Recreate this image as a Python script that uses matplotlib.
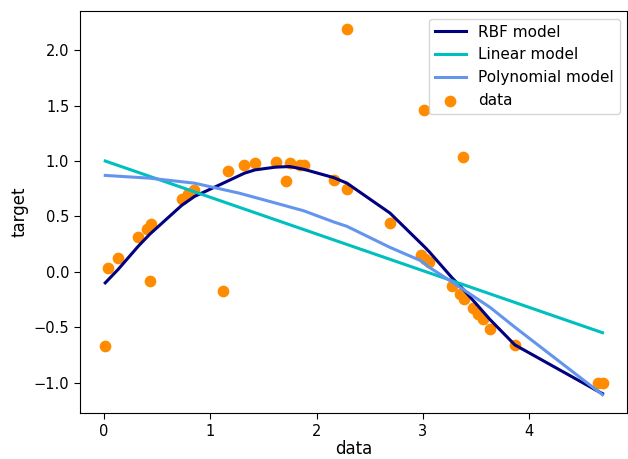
import matplotlib
matplotlib.use("Agg")
import matplotlib.pyplot as plt

# data points
data_x = [0.01, 0.036, 0.13, 0.32, 0.405, 0.43, 0.436, 0.73, 0.786, 0.85,
          1.12, 1.165, 1.32, 1.42, 1.615, 1.715, 1.746, 1.84, 1.88, 2.16,
          2.285, 2.285, 2.69, 2.98, 3.008, 3.02, 3.06, 3.27, 3.345, 3.377,
          3.39, 3.47, 3.52, 3.565, 3.63, 3.865, 4.65, 4.69]
data_y = [-0.67, 0.033, 0.12, 0.31, 0.39, -0.087, 0.43, 0.66, 0.70, 0.74,
          -0.175, 0.913, 0.964, 0.982, 0.994, 0.817, 0.985, 0.96, 0.96, 0.83,
          2.19, 0.75, 0.436, 0.147, 1.46, 0.115, 0.09, -0.13, -0.197, 1.04,
          -0.25, -0.33, -0.38, -0.425, -0.52, -0.66, -1.0, -1.0]

# model curves
rbf_x = [0.01, 0.13, 0.32, 0.43, 0.73, 0.85, 1.12, 1.32, 1.42, 1.615, 1.746,
         1.88, 2.16, 2.285, 2.69, 3.02, 3.06, 3.27, 3.39, 3.52, 3.63, 3.865,
         4.65, 4.69]
rbf_y = [-0.10, 0.02, 0.23, 0.34, 0.60, 0.68, 0.80, 0.89, 0.92, 0.945, 0.95,
         0.925, 0.85, 0.80, 0.53, 0.22, 0.18, -0.05, -0.17, -0.31, -0.43, -0.66,
         -1.08, -1.10]

lin_x = [0.01, 4.69]
lin_y = [1.00, -0.55]

poly_x = [0.01, 0.43, 0.85, 1.27, 1.615, 1.88, 2.16, 2.285, 2.69, 2.98,
          3.06, 3.27, 3.52, 3.63, 3.865, 4.69]
poly_y = [0.87, 0.845, 0.80, 0.71, 0.62, 0.55, 0.45, 0.41, 0.22, 0.10,
          0.04, -0.09, -0.25, -0.32, -0.50, -1.11]

fig = plt.figure(figsize=(6.28, 4.59), dpi=100)
ax = fig.add_axes([0.128, 0.1002, 0.871, 0.876])

ax.plot(rbf_x, rbf_y, color="navy", lw=2.2, label="RBF model", zorder=3)
ax.plot(lin_x, lin_y, color="c", lw=2.2, label="Linear model", zorder=3)
ax.plot(poly_x, poly_y, color="cornflowerblue", lw=2.2, label="Polynomial model", zorder=3)
ax.scatter(data_x, data_y, color="darkorange", s=55, label="data", zorder=2)

ax.tick_params(labelsize=10.5, length=4.5)
ax.set_xlabel("data", fontsize=12, labelpad=0.5)
ax.set_ylabel("target", fontsize=12)
ax.legend(loc="upper right", fontsize=11)

fig.savefig("out.png", dpi=100)
